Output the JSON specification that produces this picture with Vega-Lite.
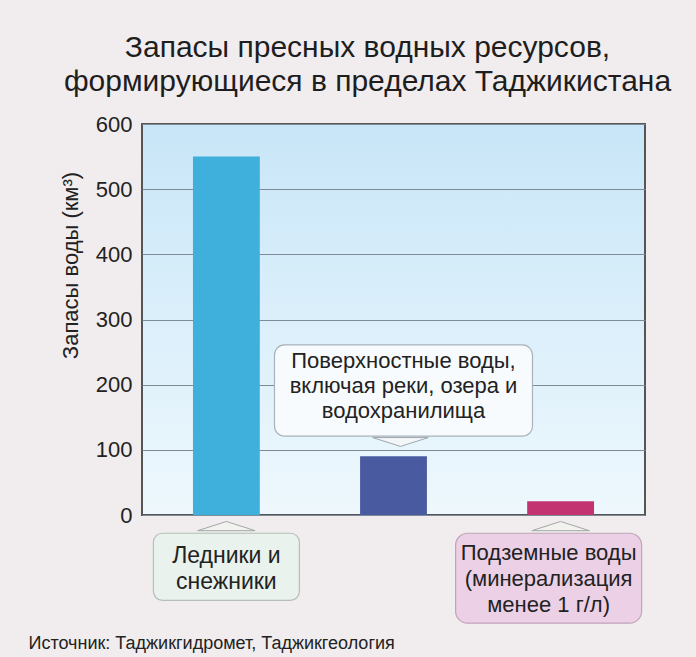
{
  "$schema": "https://vega.github.io/schema/vega-lite/v6.json",
  "width": 503,
  "height": 391,
  "autosize": {"type": "none"},
  "padding": {"left": 142, "top": 124, "right": 51, "bottom": 142},
  "background": "#f1edee",
  "datasets": {
    "bars": [
      {"cat": "Ледники", "value": 550},
      {"cat": "Поверхностные", "value": 90},
      {"cat": "Подземные", "value": 21}
    ],
    "notes": [
      {"cat": "Ледники", "label": "Ледники и\nснежники"},
      {"cat": "Поверхностные", "label": "Поверхностные воды,\nвключая реки, озера и\nводохранилища"},
      {"cat": "Подземные", "label": "Подземные воды\n(минерализация\nменее 1 г/л)"}
    ]
  },
  "title": {
    "text": ["Запасы пресных водных ресурсов,", "формирующиеся в пределах Таджикистана"],
    "font": "Liberation Sans",
    "fontSize": 30,
    "fontWeight": "normal",
    "color": "#1e1e1e",
    "lineHeight": 34,
    "anchor": "middle",
    "frame": "group",
    "dx": -26,
    "offset": 16
  },
  "config": {
    "font": "Liberation Sans",
    "view": {
      "stroke": "#555555",
      "strokeWidth": 2,
      "fill": {
        "gradient": "linear", "x1": 0, "y1": 0, "x2": 0, "y2": 1,
        "stops": [{"offset": 0, "color": "#c8e6f8"}, {"offset": 1, "color": "#eef8fd"}]
      }
    }
  },
  "encoding": {
    "x": {
      "field": "cat",
      "type": "nominal",
      "sort": null,
      "scale": {"domain": ["Ледники", "Поверхностные", "Подземные"], "paddingInner": 0.6, "paddingOuter": 0.305},
      "axis": {
        "labels": false, "ticks": false, "domain": false, "grid": false,
        "title": "Источник: Таджикгидромет, Таджикгеология",
        "titleFontSize": 18, "titleFontWeight": "normal", "titleColor": "#222222",
        "titleAnchor": "start", "titleAlign": "left", "titleBaseline": "middle",
        "titleX": -114, "titleY": 128
      }
    }
  },
  "layer": [
    {
      "data": {"name": "bars"},
      "mark": {"type": "bar"},
      "encoding": {
        "y": {
          "field": "value",
          "type": "quantitative",
          "scale": {"domain": [0, 600], "nice": false},
          "axis": {
            "title": "Запасы воды (км³)",
            "values": [0, 100, 200, 300, 400, 500, 600],
            "titleFontSize": 22, "titleFontWeight": "normal", "titleColor": "#222222",
            "titleX": -72, "titleY": 141, "titleAlign": "center", "titleBaseline": "middle",
            "labelFontSize": 22, "labelColor": "#222222", "labelPadding": 10,
            "ticks": false, "domain": false,
            "grid": true, "gridColor": "#7d8b98", "gridWidth": 1
          }
        },
        "color": {
          "field": "cat",
          "type": "nominal",
          "scale": {"domain": ["Ледники", "Поверхностные", "Подземные"], "range": ["#3fb0dc", "#4a5aa0", "#c2336f"]},
          "legend": null
        }
      }
    },
    {
      "data": {"name": "notes"},
      "transform": [{"filter": "datum.cat == 'Ледники'"}],
      "mark": {"type": "bar", "width": 146, "cornerRadius": 9, "fill": "#e9f2ec", "stroke": "#b4c0b8", "strokeWidth": 1.2},
      "encoding": {
        "y": {"datum": -28, "type": "quantitative"},
        "y2": {"datum": -131}
      }
    },
    {
      "data": {"name": "notes"},
      "transform": [{"filter": "datum.cat == 'Подземные'"}],
      "mark": {"type": "bar", "width": 186, "xOffset": -12, "cornerRadius": 12, "fill": "#ecd0e6", "stroke": "#c0a4b8", "strokeWidth": 1.2},
      "encoding": {
        "y": {"datum": -28, "type": "quantitative"},
        "y2": {"datum": -166}
      }
    },
    {
      "data": {"name": "notes"},
      "transform": [{"filter": "datum.cat == 'Поверхностные'"}],
      "mark": {"type": "bar", "width": 258, "xOffset": 10, "cornerRadius": 10, "fill": "#f8fbfd", "stroke": "#a8b2ba", "strokeWidth": 1.2},
      "encoding": {
        "y": {"datum": 261, "type": "quantitative"},
        "y2": {"datum": 121}
      }
    },
    {
      "data": {"name": "notes"},
      "transform": [{"filter": "datum.cat != 'Поверхностные'"}],
      "mark": {"type": "point", "shape": "M-1,0.16L0,-0.16L1,0.16Z", "size": 3300, "filled": true, "fill": "#f2f2ee", "stroke": "#a0a8a8", "strokeWidth": 1, "opacity": 1},
      "encoding": {
        "y": {"datum": -17, "type": "quantitative"}
      }
    },
    {
      "data": {"name": "notes"},
      "transform": [{"filter": "datum.cat == 'Поверхностные'"}],
      "mark": {"type": "point", "shape": "M-1,-0.16L0,0.16L1,-0.16Z", "size": 3100, "xOffset": 7, "filled": true, "fill": "#f2f6f8", "stroke": "#a0a8ae", "strokeWidth": 1, "opacity": 1},
      "encoding": {
        "y": {"datum": 112, "type": "quantitative"}
      }
    },
    {
      "data": {"name": "notes"},
      "transform": [{"filter": "datum.cat == 'Ледники'"}],
      "mark": {"type": "text", "fontSize": 23, "lineHeight": 26, "lineBreak": "\n", "align": "center", "baseline": "middle", "color": "#222222"},
      "encoding": {
        "y": {"datum": -63, "type": "quantitative"},
        "text": {"field": "label"}
      }
    },
    {
      "data": {"name": "notes"},
      "transform": [{"filter": "datum.cat == 'Подземные'"}],
      "mark": {"type": "text", "fontSize": 22, "lineHeight": 26, "lineBreak": "\n", "align": "center", "baseline": "middle", "xOffset": -12, "color": "#222222"},
      "encoding": {
        "y": {"datum": -58, "type": "quantitative"},
        "text": {"field": "label"}
      }
    },
    {
      "data": {"name": "notes"},
      "transform": [{"filter": "datum.cat == 'Поверхностные'"}],
      "mark": {"type": "text", "fontSize": 22, "lineHeight": 25, "lineBreak": "\n", "align": "center", "baseline": "middle", "xOffset": 10, "color": "#222222"},
      "encoding": {
        "y": {"datum": 236, "type": "quantitative"},
        "text": {"field": "label"}
      }
    }
  ]
}
